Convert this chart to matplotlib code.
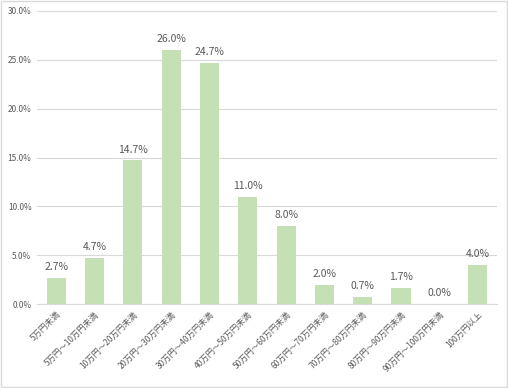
import matplotlib.pyplot as plt
from matplotlib.patches import Rectangle

plt.rcParams['font.family'] = ['Noto Sans CJK JP', 'DejaVu Sans']

# data
categories = [
    "5万円未満", "5万円～10万円未満", "10万円～20万円未満", "20万円～30万円未満",
    "30万円～40万円未満", "40万円～50万円未満", "50万円～60万円未満",
    "60万円～70万円未満", "70万円～80万円未満", "80万円～90万円未満",
    "90万円～100万円未満", "100万円以上",
]
values = [2.7, 4.7, 14.7, 26.0, 24.7, 11.0, 8.0, 2.0, 0.7, 1.7, 0.0, 4.0]
yticks = [0, 5, 10, 15, 20, 25, 30]

text_color = "#595959"

fig = plt.figure(figsize=(5.08, 3.88), dpi=100)
ax = fig.add_axes([0.073, 0.216, 0.905, 0.756])

x = range(len(values))
ax.bar(x, values, width=0.5, color="#C5E0B4", zorder=3)

for i, v in enumerate(values):
    ax.text(i, v + 0.6, f"{v:.1f}%", ha="center", va="bottom",
            fontsize=7.5, color=text_color)

ax.set_ylim(0, 30)
ax.set_xlim(-0.5, len(values) - 0.5)
ax.set_yticks(yticks)
ax.set_yticklabels([f"{t:.1f}%" for t in yticks], fontsize=6, color=text_color)
ax.set_xticks(list(x))
ax.set_xticklabels(categories, rotation=45, ha="right", rotation_mode="anchor",
                   fontsize=6, color=text_color)
ax.tick_params(length=0, pad=4)
ax.grid(axis="y", color="#D9D9D9", linewidth=0.8, zorder=0)
for s in ["top", "right", "left"]:
    ax.spines[s].set_visible(False)
ax.spines["bottom"].set_color("#D9D9D9")

fig.patches.append(Rectangle((0.002, 0.002), 0.996, 0.996, transform=fig.transFigure,
                             fill=False, edgecolor="#D9D9D9", linewidth=1))

fig.savefig("out.png", dpi=100)
